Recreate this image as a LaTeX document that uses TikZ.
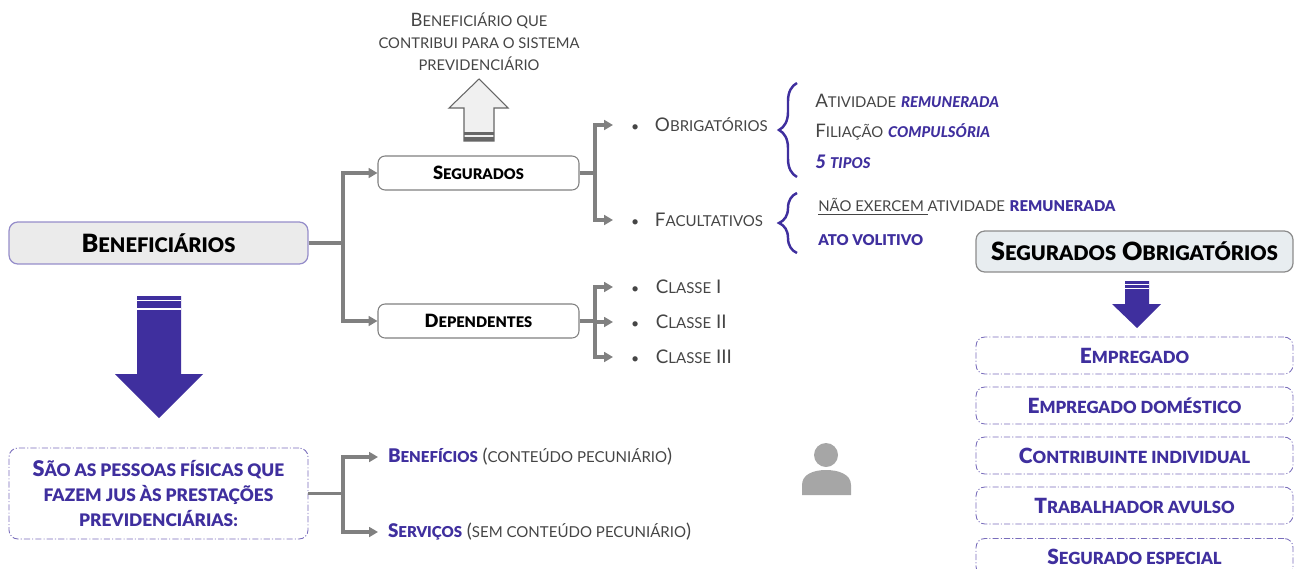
\documentclass[tikz,border=0pt]{standalone}
\usepackage{fontspec}
\setmainfont{Lato}[BoldFont=Lato Black,BoldItalicFont=Lato Black Italic]
\usetikzlibrary{arrows.meta,decorations.pathreplacing}
\definecolor{roxo}{HTML}{3F2F9E}
\definecolor{cinza}{HTML}{808080}
\definecolor{texto}{HTML}{454545}
\definecolor{azulado}{HTML}{E8EDF0}
% lower case letters set as small capitals
\newcommand{\lc}[1]{{\addfontfeature{Scale=0.8}\MakeUppercase{#1}}}
\newcommand{\rx}[1]{\textcolor{roxo}{\bfseries #1}}
\tikzset{
    x=0.02cm, y=-0.02cm,
    titulo/.style={draw=#1, line width=0.7pt, rounded corners=5pt, inner sep=0pt, font=\fontsize{14.3}{16}\selectfont\bfseries, text=black},
    caixa/.style={draw=cinza, fill=white, line width=0.6pt, rounded corners=4pt, minimum width=4.02cm, minimum height=0.68cm, inner sep=0pt, font=\fontsize{10.4}{12}\selectfont\bfseries, text=black},
    tracejada/.style={draw=roxo!70, line width=0.5pt, dash pattern=on 3.5pt off 1.2pt on 0.6pt off 1.2pt, rounded corners=5pt, inner sep=0pt, text=roxo, font=\fontsize{12.3}{14}\selectfont\bfseries, align=center},
    tipo/.style={tracejada, minimum width=6.34cm, minimum height=0.74cm, font=\fontsize{11.9}{14}\selectfont\bfseries},
    item/.style={anchor=west, inner sep=0pt, outer xsep=0.36cm, text=texto, font=\fontsize{10.7}{12}\selectfont},
    desc/.style={anchor=west, inner sep=0pt, text=texto, font=\fontsize{10.6}{12}\selectfont},
    ramo/.style={draw=cinza, line width=1.8pt},
    seta/.style={ramo, -{Triangle[length=5pt,width=5.5pt]}},
    chave/.style={draw=roxo, line width=1.4pt, decorate, decoration={brace, amplitude=0.36cm, aspect=#1}},
}
\begin{document}
\begin{tikzpicture}
    \useasboundingbox (0,0) rectangle (1304,568);

    % Main boxes
    \node[titulo=roxo!55, fill=black!8, minimum width=5.98cm, minimum height=0.84cm] (benef) at (158.5,243) {B\lc{eneficiários}};
    \node[caixa] (seg) at (478.5,173) {S\lc{egurados}};
    \node[caixa] (dep) at (478.5,321) {D\lc{ependentes}};
    \node[tracejada, minimum width=5.98cm, minimum height=1.82cm] (pessoas) at (158.5,493.5)
        {S\lc{ão as pessoas físicas que}\\ \lc{fazem jus às prestações}\\ \lc{previdenciárias:}};

    % Note above the first box
    \node[desc, anchor=center, align=center, font=\fontsize{10.5}{12.4}\selectfont] (nota) at (479,42)
        {B\lc{eneficiário que}\\ \lc{contribui para o sistema}\\ \lc{previdenciário}};

    % Items on the right of the boxes
    \node[item] (obr) at (613,125) {{\footnotesize\textbullet}\hspace{9pt}O\lc{brigatórios}};
    \node[item] (fac) at (613,220) {{\footnotesize\textbullet}\hspace{9pt}F\lc{acultativos}};
    \node[item] (cl1) at (613,287) {{\footnotesize\textbullet}\hspace{9.5pt}C\lc{lasse} I};
    \node[item] (cl2) at (613,322) {{\footnotesize\textbullet}\hspace{9.5pt}C\lc{lasse} II};
    \node[item] (cl3) at (613,357) {{\footnotesize\textbullet}\hspace{9.5pt}C\lc{lasse} III};
    \node[item, outer xsep=0.2cm] (ben) at (378,457) {\rx{B\lc{enefícios}} (\lc{conteúdo pecuniário})};
    \node[item, outer xsep=0.2cm] (ser) at (378,532) {\rx{S\lc{erviços}} (\lc{sem conteúdo pecuniário})};

    % Texts behind the braces
    \node[desc] (ativ) at (815,101) {A\lc{tividade} \rx{\itshape\lc{remunerada}}};
    \node[desc] (fili) at (815,131.5) {F\lc{iliação} \rx{\itshape\lc{compulsória}}};
    \node[desc] (cinco) at (815,162) {\rx{\itshape 5 \lc{tipos}}};
    \node[desc] (naoex) at (818,207) {\underline{\lc{não exercem }}\lc{atividade} \rx{\lc{remunerada}}};
    \node[desc] (ato) at (818,240) {\rx{\lc{ato volitivo}}};

    % Connectors
    \coordinate (jbenef) at (343,243);
    \coordinate (jseg) at (595,173);
    \coordinate (jdep) at (595,321);
    \coordinate (jpes) at (343,493.5);
    \draw[ramo] (benef.east) -- (jbenef);
    \draw[seta] (jbenef) |- (seg.west);
    \draw[seta] (jbenef) |- (dep.west);
    \draw[ramo] (seg.east) -- (jseg);
    \draw[seta] (jseg) |- (obr.west);
    \draw[seta] (jseg) |- (fac.west);
    \draw[ramo] (dep.east) -- (jdep);
    \draw[seta] (jdep) |- (cl1.west);
    \draw[seta] (jdep) |- (cl2.west);
    \draw[seta] (jdep) |- (cl3.west);
    \draw[ramo] (pessoas.east) -- (jpes);
    \draw[seta] (jpes) |- (ben.west);
    \draw[seta] (jpes) |- (ser.west);

    % Braces
    \draw[chave=0.5] (797,177) -- (797,83);
    \draw[chave=0.5] (797,253) -- (797,193);

    % Arrow going up
    \filldraw[draw=black!60, fill=black!6, line width=0.6pt] (464,141) -- (464,108) -- (449,108) -- (479,79) -- (508,108) -- (494,108) -- (494,141) -- cycle;
    \fill[black!60] (464,132) rectangle (494,134.5);
    \fill[black!60] (464,137) rectangle (494,141);

    % Big arrow going down
    \fill[roxo] (137,296) -- (181,296) -- (181,374) -- (203,374) -- (159,418) -- (115,374) -- (137,374) -- cycle;
    \fill[white] (137,299.5) rectangle (181,301);
    \fill[white] (137,308) rectangle (181,309.5);

    % Person
    \fill[black!35] (826,455) circle (12);
    \fill[black!35] (802,495) -- (802,485) .. controls (802,474) and (814,470) .. (826,470) .. controls (838,470) and (851,474) .. (851,485) -- (851,495) -- cycle;

    % Box on the right with its list
    \node[titulo=black!45, fill=azulado, minimum width=6.34cm, minimum height=0.82cm] (obrig) at (1134.5,251.5) {S\lc{egurados} O\lc{brigatórios}};
    \fill[roxo] (1125,281) -- (1149,281) -- (1149,304) -- (1161,304) -- (1137,328) -- (1112,304) -- (1125,304) -- cycle;
    \fill[white] (1125,284) rectangle (1149,285);
    \fill[white] (1125,288) rectangle (1149,289);
    \node[tipo] (empr) at (1134.5,355.5) {E\lc{mpregado}};
    \node[tipo] (empd) at (1134.5,405.5) {E\lc{mpregado doméstico}};
    \node[tipo] (cont) at (1134.5,455.5) {C\lc{ontribuinte individual}};
    \node[tipo] (trab) at (1134.5,505.5) {T\lc{rabalhador avulso}};
    \node[tipo] (espe) at (1134.5,557) {S\lc{egurado especial}};
\end{tikzpicture}
\end{document}
